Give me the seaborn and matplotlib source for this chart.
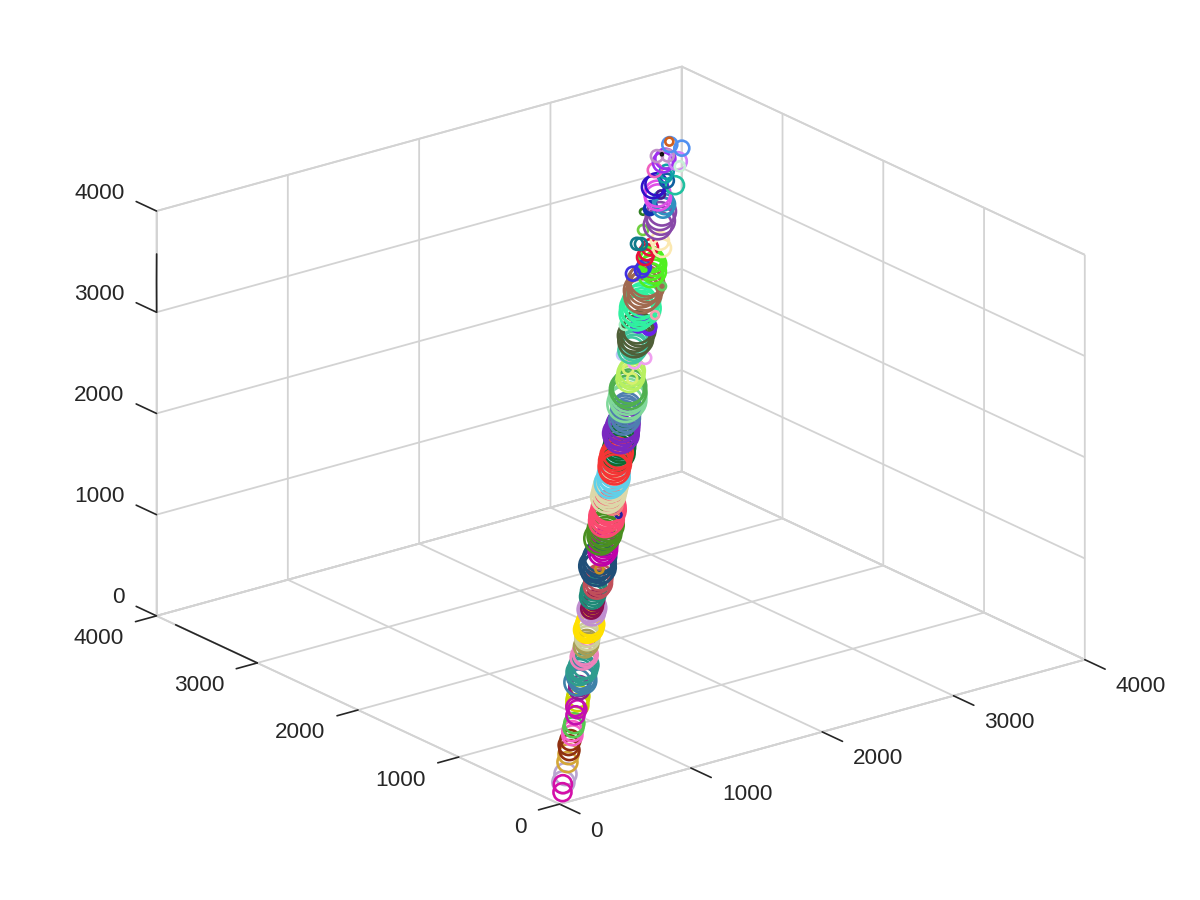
import matplotlib
matplotlib.use("Agg")
import matplotlib.pyplot as plt
from matplotlib.transforms import ScaledTranslation
import seaborn as sns

axis_limit = 4000
tick_values = [0, 1000, 2000, 3000, 4000]

ring_colors = [
 "#b9a4d0","#d40fa8","#d4a737","#8f3010","#f55fc4","#55c850","#c9d400","#c40fb0","#8e1e8e",
 "#3f82a8","#2f9c8e","#ee82bb","#a89e55","#cdd09a","#ffe000","#c08fd0","#8a0f4e","#1f8a78",
 "#c04f5a","#204f78","#c89020","#c000a8","#4a8f20","#fb4a70","#2020a0","#f08080","#dcd8a8",
 "#60d0e8","#0f6b30","#f53535","#7a28c0","#4f7fb0","#80d89a","#50b050","#b8f060","#d8f070",
 "#f0a0f0","#c0c8f8","#40c8a0","#4f5f38","#a0f0c0","#6a20e8","#30f0a0","#f8a0b0","#a06a50",
 "#60d060","#50f020","#4030e0","#e8103a","#0f7a8a","#70d040","#2f7f20","#fbe8b0","#8848a8",
 "#1030b0","#3090c0","#e050e8","#4a1a90","#3010c8","#20c0a0","#1060a0","#10a0a8","#f060c0",
 "#a030f0","#d080f8","#c8f0d8","#c090c8","#5090f0","#d06020","#101010",
]
ring_diameters = [
 22,18,20,20,20,20,22,18,20,
 26,26,24,22,24,26,26,20,24,
 26,32,8,26,32,32,6,20,32,
 30,30,30,32,28,36,34,26,10,
 12,10,26,32,10,14,34,8,34,
 8,24,14,16,12,10,6,18,28,
 12,20,26,8,22,18,14,14,14,
 20,18,10,12,15,8,2,
]
x_groups = [
 [120,167],[69,108],[232,274],[317,297,348],[380,399],[422,445],[543,567,589],[487,524,525],[626,641],
 [650,684,691,684,700],[707,740,743,767,727],[790,816,822],[852,875,885],[901,917],[939,961,963,983,985,952],
 [1043,1050,1070,1075],[1057,1077,1089,1108],[1117,1136,1147,1167],[1190,1212,1218,1240],
 [1264,1289,1290,1315,1324,1343,1274],[1278],[1367,1390,1399,1418,1427],
 [1426,1453,1474,1479,1502,1523,1530],[1529,1552,1552,1574,1582,1602,1602,1617],[1619],[1639,1650,1671],
 [1651,1674,1683,1706,1715,1738],[1728,1753,1774,1779,1800],[1892,1913,1918,1941,1950,1969,1980],
 [1822,1845,1850,1873,1882,1905,1813],[1990,2013,2016,2041,2050,2069,2002],[2080,2105,2113,2133,2142,2161],
 [2168,2198,2210,2229],[2241,2244,2267],[2303,2324,2333,2352],[2343,2318],[2473,2402],[2383],
 [2446,2469,2480,2501,2510],[2502,2527,2526,2553,2576,2579],[2536],[2593,2612,2630,2640],
 [2642,2667,2670,2701,2706,2735,2698],[2718],[2745,2772,2769,2798,2823,2822,2845],[2884],
 [2885,2916,2922,2952,2960,2960],[2868,2890,2811],[2943,3011,2975],[2969,2986],[3061],[3146],[3063,3087],
 [3150,3185,3202,3233],[3190,3204],[3256,3281,3290],[3281,3296],[3307],[3306,3335],[3415],[3399],
 [3414,3440],[3394],[3467,3495],[3540],[3525],[3469,3521],[3619,3581],[3593],[3500],
]
y_groups = [
 [118,159],[61,108],[224,268],[323,289,346],[368,393],[412,433],[531,561,581],[477,506,527],[620,639],
 [670,672,699,656,680],[723,720,747,743,723],[800,804,822],[858,865,885],[899,919],[951,949,967,967,985,948],
 [1037,1060,1060,1075],[1063,1073,1091,1102],[1133,1144,1163,1173],[1180,1188,1212,1220],
 [1276,1281,1310,1315,1336,1347,1306],[1270],[1363,1370,1391,1402,1423],
 [1454,1457,1466,1491,1498,1507,1530],[1541,1544,1568,1570,1586,1590,1610,1613],[1525],[1611,1630,1639],
 [1679,1686,1707,1714,1735,1742],[1752,1757,1766,1791,1800],[1888,1897,1922,1929,1950,1961,1980],
 [1838,1845,1870,1877,1898,1905,1817],[1990,1997,2024,2029,2050,2061,2018],[2080,2085,2107,2117,2138,2149],
 [2172,2182,2210,2221],[2229,2256,2263],[2307,2316,2337,2348],[2373,2300],[2373,2390],[2485],
 [2474,2481,2500,2509,2530],[2518,2523,2554,2557,2564,2591],[2656],[2599,2612,2540,2550],
 [2678,2683,2710,2709,2734,2735,2682],[2594],[2765,2768,2801,2802,2807,2838,2845],[2742],
 [2855,2864,2898,2908,2940,2960],[2920,2930,2935],[2987,3027,3009],[3101,3084],[3161],[3272],[2975,3027],
 [3130,3145,3178,3197],[3260,3268],[3216,3229,3260],[3299,3324],[3305],[3382,3385],[3305],[3365],
 [3404,3420],[3478],[3493,3505],[3440],[3401],[3555,3515],[3503,3573],[3593],[3546],
]
z_groups = [
 [119,163],[65,108],[228,271],[320,293,347],[374,396],[417,439],[537,564,585],[482,515,526],[623,640],
 [660,678,695,670,690],[715,730,745,755,725],[795,810,822],[855,870,885],[900,918],[945,955,965,975,985,950],
 [1040,1055,1065,1075],[1060,1075,1090,1105],[1125,1140,1155,1170],[1185,1200,1215,1230],
 [1270,1285,1300,1315,1330,1345,1290],[1274],[1365,1380,1395,1410,1425],
 [1440,1455,1470,1485,1500,1515,1530],[1535,1548,1560,1572,1584,1596,1606,1615],[1572],[1625,1640,1655],
 [1665,1680,1695,1710,1725,1740],[1740,1755,1770,1785,1800],[1890,1905,1920,1935,1950,1965,1980],
 [1830,1845,1860,1875,1890,1905,1815],[1990,2005,2020,2035,2050,2065,2010],[2080,2095,2110,2125,2140,2155],
 [2170,2190,2210,2225],[2235,2250,2265],[2305,2320,2335,2350],[2358,2309],[2423,2396],[2434],
 [2460,2475,2490,2505,2520],[2510,2525,2540,2555,2570,2585],[2596],[2596,2612,2585,2595],
 [2660,2675,2690,2705,2720,2735,2690],[2656],[2755,2770,2785,2800,2815,2830,2845],[2813],
 [2870,2890,2910,2930,2950,2960],[2894,2910,2873],[2965,3019,2992],[3035,3035],[3111],[3209],[3019,3057],
 [3140,3165,3190,3215],[3225,3236],[3236,3255,3275],[3290,3310],[3306],[3344,3360],[3360],[3382],
 [3409,3430],[3436],[3480,3500],[3490],[3463],[3512,3518],[3561,3577],[3593],[3523],
]
z_edge_stub = [3000, 3300, 3575]
y_edge_stub = [3000, 3810]

sns.set_theme(style="white")
plt.rcParams["font.family"] = ["Liberation Sans", "DejaVu Sans"]

fig = plt.figure(figsize=(12, 9), dpi=100, facecolor="white")
ax = fig.add_axes([8.5 / 1200, 2.5 / 900, 1, 1], projection="3d", computed_zorder=False)
ax.set_proj_type("ortho")
ax.view_init(elev=21, azim=-127.5)
ax.set_box_aspect((1, 1, 0.655), zoom=1.113)
ax.set_xlim(0, axis_limit)
ax.set_ylim(0, axis_limit)
ax.set_zlim(0, axis_limit)
ax.set_xticks(tick_values)
ax.set_yticks(tick_values)
ax.set_zticks(tick_values)
ax.zaxis.set_ticks_position("upper")
ax.zaxis.set_label_position("upper")
ax.zaxis._get_tickdir = lambda position: 1

grid_color = "#d3d3d3"
for axis in (ax.xaxis, ax.yaxis, ax.zaxis):
    axis.set_pane_color((1, 1, 1, 1))
    axis.pane.set_edgecolor(grid_color)
    axis.pane.set_linewidth(1.3)
    axis.line.set_color(grid_color)
    axis.line.set_linewidth(1.3)
    axis._axinfo["grid"].update(color=grid_color, linewidth=1.3, linestyle="-")
    axis._axinfo["tick"].update(inward_factor=0.63, outward_factor=0.0, linewidth={True: 1.2, False: 0.5})
ax.yaxis._axinfo["tick"].update(inward_factor=0.5)
ax.zaxis._axinfo["tick"].update(inward_factor=0.0, outward_factor=0.63)
ax.tick_params(axis="both", labelsize=16.2, colors="#262626", pad=0)
ax.tick_params(axis="z", labelsize=16.2, colors="#262626", pad=0)
ax.grid(True)


def place_tick_labels(axis, ha, dx_px, dy_px):
    """Anchor an axis' labels on the axis line and shift them by a fixed screen offset."""
    original = axis.get_major_ticks
    shift = ScaledTranslation(dx_px / 100, dy_px / 100, fig.dpi_scale_trans)

    def patched(numticks=None):
        ticks = original(numticks)
        for tick in ticks:
            tick.label1.set_transform(ax.transData + shift)
            tick.label1.set_ha(ha)
            tick.label1.set_va("center")
        return ticks

    axis.get_major_ticks = patched
    axis._axmask = lambda: [False, False, False]


place_tick_labels(ax.xaxis, "left", 31, -27)
place_tick_labels(ax.yaxis, "right", -33, -23)
place_tick_labels(ax.zaxis, "right", -32, 18)

for color, diameter, xs, ys, zs in zip(ring_colors, ring_diameters, x_groups, y_groups, z_groups):
    ax.scatter(xs, ys, zs, s=(diameter * 0.72) ** 2, facecolors="none", edgecolors=color,
               linewidths=1.9, depthshade=False)

ax.plot([1, 0, 1], [axis_limit, axis_limit, axis_limit], z_edge_stub, color="#262626", lw=1.2,
        zorder=5, clip_on=False)
ax.plot([0, 0], y_edge_stub, [0, 0], color="#262626", lw=1.2, zorder=5)

fig.savefig("out.png", dpi=100, facecolor="white")
